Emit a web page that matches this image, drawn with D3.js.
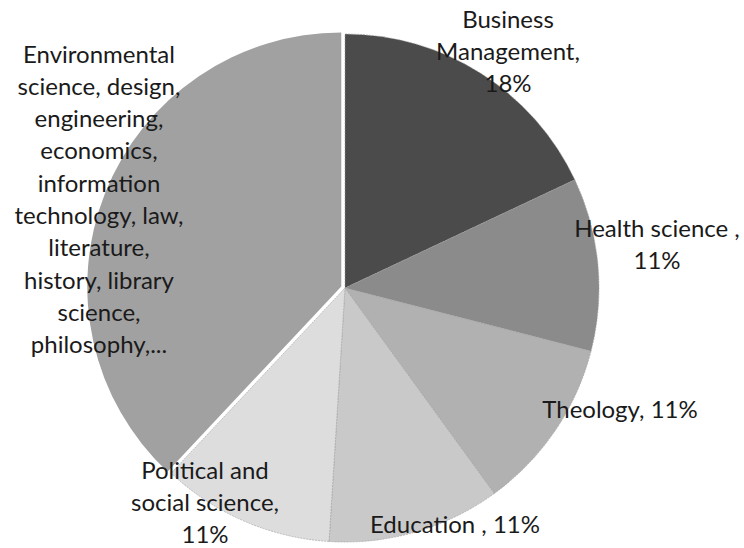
<!DOCTYPE html>
<html>
<head>
<meta charset="utf-8">
<script src="https://cdn.jsdelivr.net/npm/d3@7"></script>
<style>
  body { margin: 0; background: #fff; }
  svg { display: block; }
  text { font-family: Lato, "Open Sans", sans-serif; fill: #1a1a1a; }
</style>
</head>
<body>
<svg id="chart" viewBox="0 0 744 548" width="744" height="548"></svg>
<script>
const categories = [
  "Business Management",
  "Health science",
  "Theology",
  "Education",
  "Political and social science",
  "Other fields"
];
const shares = [18, 11, 11, 11, 11, 38];
const labelLines = [
  ["Business", "Management,", "18%"],
  ["Health science ,", "11%"],
  ["Theology, 11%"],
  ["Education , 11%"],
  ["Political and", "social science,", "11%"],
  ["Environmental", "science, design,", "engineering,", "economics,", "information",
   "technology, law,", "literature,", "history, library", "science,", "philosophy,..."]
];
const fills = ["#4b4b4b", "#8b8b8b", "#b1b1b1", "#c9c9c9", "#dddddd", "#a1a1a1"];

const svg = d3.select("#chart");
const cx = 345, cy = 288, radius = 254;
const lineHeight = 32.3;

// label centres, relative to the pie centre
const labelOffsets = [[163, -236], [312, -43], [275, 122], [110, 237], [-140, 215], [-246, -88]];
const exploded = 5; // index of pulled-out slice

const pie = d3.pie().sort(null).value((d) => d);
const arcs = pie(shares);
const arc = d3.arc().innerRadius(0).outerRadius(radius);

const g = svg.append("g").attr("transform", `translate(${cx},${cy})`);

g.selectAll("path")
  .data(arcs)
  .enter()
  .append("path")
  .attr("d", arc)
  .attr("fill", (d, i) => fills[i])
  .attr("stroke", (d, i) => (i === exploded ? "none" : "#9a9a9a"))
  .attr("stroke-width", 0.6)
  .attr("stroke-dasharray", "2,1")
  .attr("transform", (d, i) => {
    if (i !== exploded) return null;
    const mid = (d.startAngle + d.endAngle) / 2;
    const [ox, oy] = d3.pointRadial(mid, 4);
    return `translate(${ox},${oy})`;
  });

const labels = g.selectAll(".label")
  .data(arcs)
  .enter()
  .append("text")
  .attr("class", "label")
  .attr("text-anchor", "middle")
  .attr("font-size", 24)
  .attr("transform", (d, i) => `translate(${labelOffsets[i][0]},${labelOffsets[i][1]})`);

labels.each(function (d, i) {
  const lines = labelLines[i];
  const top = -((lines.length - 1) * lineHeight) / 2;
  d3.select(this)
    .selectAll("tspan")
    .data(lines)
    .enter()
    .append("tspan")
    .attr("x", 0)
    .attr("y", (l, j) => top + j * lineHeight)
    .attr("dy", "0.33em")
    .text((l) => l);
});
</script>
</body>
</html>
